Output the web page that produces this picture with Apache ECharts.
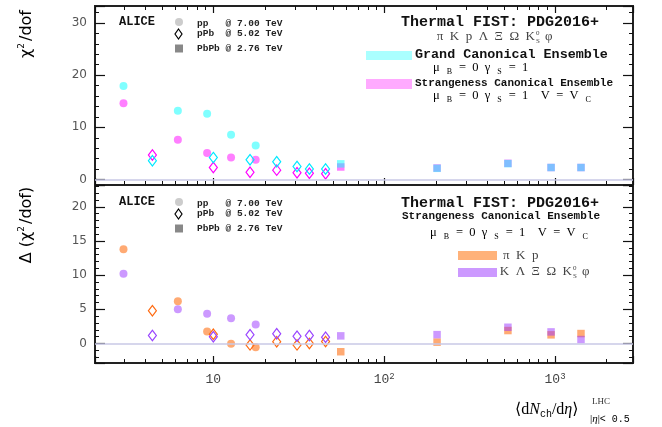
<!DOCTYPE html>
<html>
<head>
<meta charset="utf-8">
<script src="https://cdn.jsdelivr.net/npm/echarts@6/dist/echarts.min.js"></script>
<style>
html, body { margin: 0; padding: 0; background: #fff; }
#chart { width: 662px; height: 427px; }
</style>
</head>
<body>
<div id="chart"></div>
<script>
// <dNch/deta> of the multiplicity classes
var ppX = [2.98, 6.2, 9.2, 12.7, 17.7];
var pPbX = [4.4, 10.0, 16.4, 23.5, 30.9, 36.5, 45.4];
var PbPbX = [55.7, 204, 530, 948, 1419];

// top panel: chi2/dof
var ppGCE = [17.9, 13.2, 12.6, 8.6, 6.5];
var ppSCE = [14.6, 7.6, 5.1, 4.2, 3.8];
var pPbGCE = [3.6, 4.2, 3.8, 3.4, 2.5, 2.0, 2.0];
var pPbSCE = [4.7, 2.3, 1.4, 1.8, 1.3, 1.2, 1.1];
var PbPbGCE = [3.0, 2.15, 3.05, 2.3, 2.3];
var PbPbSCE = [2.4, 2.2, 3.1, 2.3, 2.3];

// bottom panel: delta chi2/dof
var ppPiKp = [13.8, 6.2, 1.75, -0.05, -0.55];
var ppStrange = [10.2, 5.0, 4.35, 3.7, 2.8];
var pPbPiKp = [4.8, 1.35, -0.2, 0.25, -0.2, 0.0, 0.3];
var pPbStrange = [1.17, 0.98, 1.3, 1.42, 1.07, 1.17, 0.92];
var PbPbPiKp = [-1.2, 0.2, 1.9, 1.27, 1.46];
var PbPbStrange = [1.12, 1.3, 2.38, 1.7, 0.58];

var minorTicksX = [3, 4, 5, 6, 7, 8, 9, 20, 30, 40, 50, 60, 70, 80, 90,
    200, 300, 400, 500, 600, 700, 800, 900, 2000];

var cyan = 'rgba(0,255,255,0.5)', magenta = 'rgba(255,0,255,0.5)';
var orange = 'rgba(255,100,0,0.55)', purple = 'rgba(153,51,255,0.5)';
var tickColor = '#111';
var mono = 'Liberation Mono';
var serif = 'Liberation Serif, DejaVu Serif';

function pairs(xs, ys) {
    return xs.map(function (x, i) { return [x, ys[i]]; });
}

function dots(xi, yi, xs, ys, symbol, color) {
    return {
        type: 'scatter', xAxisIndex: xi, yAxisIndex: yi, silent: true,
        symbol: symbol, symbolSize: symbol === 'circle' ? 8 : 7.5,
        itemStyle: { color: color, opacity: 1 },
        data: pairs(xs, ys)
    };
}

function diamonds(xi, yi, xs, ys, stroke) {
    return {
        type: 'scatter', xAxisIndex: xi, yAxisIndex: yi, silent: true,
        symbol: 'diamond', symbolSize: [8, 10.5],
        itemStyle: { color: 'rgba(0,0,0,0)', borderColor: stroke, borderWidth: 1.2, opacity: 1 },
        data: pairs(xs, ys)
    };
}

function zeroLine(xi, yi) {
    return {
        type: 'line', xAxisIndex: xi, yAxisIndex: yi, data: [], silent: true,
        markLine: {
            silent: true, symbol: 'none', label: { show: false },
            lineStyle: { color: '#c8c8e6', width: 1.5, type: 'solid' },
            data: [{ yAxis: 0 }]
        }
    };
}

// minor ticks of the log axis (2..9 x 10^n)
function minorTickSeries(xi, yi, both) {
    return {
        type: 'custom', xAxisIndex: xi, yAxisIndex: yi, silent: true, clip: false, z: 5,
        data: minorTicksX.map(function (v) { return [v, 0]; }),
        encode: { x: 0, y: 1 },
        renderItem: function (params, api) {
            var cs = params.coordSys;
            var x = Math.round(api.coord([api.value(0), 0])[0]) + 0.5;
            var b = cs.y + cs.height;
            var kids = [{ type: 'line', shape: { x1: x, y1: b, x2: x, y2: b - 4 }, style: { stroke: tickColor, lineWidth: 1 } }];
            if (both) {
                kids.push({ type: 'line', shape: { x1: x, y1: cs.y, x2: x, y2: cs.y + 4 }, style: { stroke: tickColor, lineWidth: 1 } });
            }
            return { type: 'group', children: kids };
        }
    };
}

function xAxisCfg(gi, pos, showLabel) {
    return {
        type: 'log', logBase: 10, gridIndex: gi, position: pos, min: 2.03, max: 2860, splitNumber: 3,
        axisLine: { show: true, onZero: false, lineStyle: { color: '#222', width: 2 } },
        splitLine: { show: false },
        axisTick: { show: true, inside: true, length: 7, lineStyle: { color: tickColor, width: 1.2 } },
        axisLabel: {
            show: showLabel, color: '#444', fontFamily: mono, fontSize: 13, margin: 9,
            formatter: function (v) {
                var l = Math.log10(v), e = Math.round(l);
                if (Math.abs(l - e) > 1e-3) return '';
                return e === 1 ? '{m|10}' : '{m|10}{s|' + e + '}';
            },
            rich: {
                m: { fontFamily: mono, fontSize: 13, color: '#444', lineHeight: 16 },
                s: { fontFamily: mono, fontSize: 9, color: '#444', verticalAlign: 'top', lineHeight: 16, padding: [0, 0, 6, 0] }
            }
        }
    };
}

function yAxisCfg(gi, pos, min, max, split, step, showLabel) {
    return {
        type: 'value', gridIndex: gi, position: pos, min: min, max: max, splitNumber: split,
        axisLine: { show: true, onZero: false, lineStyle: { color: '#222', width: 2 } },
        splitLine: { show: false },
        axisTick: { show: true, inside: true, length: 10, lineStyle: { color: tickColor, width: 1.2 } },
        minorTick: { show: true, splitNumber: 5, length: 4, lineStyle: { color: tickColor, width: 1 } },
        axisLabel: {
            show: showLabel, color: '#555', fontFamily: 'DejaVu Sans', fontSize: 12, margin: 8,
            formatter: function (v) {
                return Math.abs(v / step - Math.round(v / step)) < 1e-6 ? String(Math.round(v)) : '';
            }
        }
    };
}

function txt(x, y, text, font, fill, align) {
    return {
        type: 'text', x: x, y: y, silent: true, z: 20,
        style: {
            text: text, font: font, fill: fill || '#111',
            align: align || 'left', verticalAlign: 'middle',
            textAlign: align || 'left', textVerticalAlign: 'middle'
        }
    };
}

function richTxt(x, y, text, rich, align) {
    return {
        type: 'text', x: x, y: y, silent: true, z: 20,
        style: {
            text: text, rich: rich,
            align: align || 'left', verticalAlign: 'middle',
            textAlign: align || 'left', textVerticalAlign: 'middle'
        }
    };
}

function box(x, y, w, h, color) {
    return { type: 'rect', silent: true, z: 20, shape: { x: x, y: y, width: w, height: h }, style: { fill: color } };
}

var muRich = {
    m: { fontFamily: serif, fontSize: 12.5, color: '#555' },
    b: { fontFamily: serif, fontSize: 8, color: '#555', padding: [8, 7, 0, 7] }
};

function systemLegend(y0) {
    // ALICE marker legend
    return [
        txt(119, y0, 'ALICE', 'bold 12px ' + mono),
        { type: 'circle', silent: true, z: 20, shape: { cx: 179, cy: y0, r: 4 }, style: { fill: '#cccccc' } },
        { type: 'polygon', silent: true, z: 20, shape: { points: [[178.5, y0 + 7], [182, y0 + 12], [178.5, y0 + 17], [175, y0 + 12]] }, style: { fill: '#fff', stroke: '#000', lineWidth: 1.2 } },
        box(175, y0 + 22.5, 8, 8, '#888'),
        txt(197, y0 + 2, 'pp   @ 7.00 TeV', 'bold 9.5px ' + mono, '#222'),
        txt(197, y0 + 12, 'pPb  @ 5.02 TeV', 'bold 9.5px ' + mono, '#222'),
        txt(197, y0 + 26.5, 'PbPb @ 2.76 TeV', 'bold 9.5px ' + mono, '#222')
    ];
}

var graphics = [].concat(
    systemLegend(22),
    systemLegend(202),
    [
        // top right legend
        txt(500, 22, 'Thermal FIST: PDG2016+', 'bold 15px ' + mono, '#111', 'center'),
        txt(535, 37, 'π  K  p  Λ  Ξ  Ω  K', '13px ' + serif, '#444', 'right'),
        txt(536, 33, '0', '7px ' + serif, '#444'),
        txt(536, 41, 'S', '7px ' + serif, '#444'),
        txt(545, 37, 'φ', '13px ' + serif, '#444'),
        box(366, 51, 46, 9, '#aaffff'),
        txt(415, 55, 'Grand Canonical Ensemble', 'bold 13.4px ' + mono),
        richTxt(433, 68, '{m|μ}{b|B}{m|=  0  γ}{b|S}{m|=  1}', muRich),
        box(366, 79, 46, 10, '#ffaaff'),
        txt(415, 83, 'Strangeness Canonical Ensemble', 'bold 11px ' + mono),
        richTxt(433, 96, '{m|μ}{b|B}{m|=  0  γ}{b|S}{m|=  1    V  =  V}{b|C}', muRich),

        // bottom right legend
        txt(500, 203, 'Thermal FIST: PDG2016+', 'bold 15px ' + mono, '#111', 'center'),
        txt(501, 216, 'Strangeness Canonical Ensemble', 'bold 11px ' + mono, '#111', 'center'),
        richTxt(430, 233, '{m|μ}{b|B}{m|=  0  γ}{b|S}{m|=  1    V  =  V}{b|C}', muRich),
        box(458, 251, 39, 9, '#ffb27a'),
        txt(503, 256, 'π  K  p', '13px ' + serif, '#444'),
        box(458, 268, 39, 9, '#cc99ff'),
        txt(572, 272, 'K  Λ  Ξ  Ω  K', '13px ' + serif, '#444', 'right'),
        txt(573, 268, '0', '7px ' + serif, '#444'),
        txt(573, 276, 'S', '7px ' + serif, '#444'),
        txt(582, 272, 'φ', '13px ' + serif, '#444'),

        // axis titles
        {
            type: 'text', x: 27, y: 34, rotation: Math.PI / 2, silent: true, z: 20,
            style: {
                text: '{a|χ}{s|2}{a|/dof}', align: 'center', verticalAlign: 'middle',
                textAlign: 'center', textVerticalAlign: 'middle',
                rich: {
                    a: { fontFamily: 'DejaVu Sans', fontSize: 16, color: '#444' },
                    s: { fontFamily: 'DejaVu Sans', fontSize: 9, color: '#444', padding: [0, 2, 10, 0] }
                }
            }
        },
        {
            type: 'text', x: 27, y: 225, rotation: Math.PI / 2, silent: true, z: 20,
            style: {
                text: '{a|Δ (χ}{s|2}{a|/dof)}', align: 'center', verticalAlign: 'middle',
                textAlign: 'center', textVerticalAlign: 'middle',
                rich: {
                    a: { fontFamily: 'DejaVu Sans', fontSize: 16, color: '#444' },
                    s: { fontFamily: 'DejaVu Sans', fontSize: 9, color: '#444', padding: [0, 2, 10, 0] }
                }
            }
        },
        richTxt(515, 410, '{t|⟨d}{i|N}{b|ch}{t|/d}{i|η}{t|⟩}', {
            t: { fontFamily: serif, fontSize: 16, color: '#333' },
            i: { fontFamily: serif, fontSize: 16, fontStyle: 'italic', color: '#333' },
            b: { fontFamily: mono, fontSize: 10, color: '#333', padding: [9, 0, 0, 0] }
        }),
        txt(592, 402, 'LHC', '9px ' + serif, '#333'),
        richTxt(590, 419, '{t||}{i|η}{t||}{m|< 0.5}', {
            t: { fontFamily: serif, fontSize: 11, color: '#333' },
            i: { fontFamily: serif, fontSize: 11, fontStyle: 'italic', color: '#333' },
            m: { fontFamily: mono, fontSize: 10, color: '#333' }
        })
    ]
);

var chart = echarts.init(document.getElementById('chart'));
chart.setOption({
    animation: false,
    backgroundColor: '#fff',
    grid: [
        { left: 95, top: 6, width: 538, height: 179, show: true, borderColor: '#222', borderWidth: 2, backgroundColor: 'transparent' },
        { left: 95, top: 185, width: 538, height: 178, show: true, borderColor: '#222', borderWidth: 2, backgroundColor: 'transparent' }
    ],
    xAxis: [
        xAxisCfg(0, 'bottom', false),
        xAxisCfg(0, 'top', false),
        xAxisCfg(1, 'bottom', true)
    ],
    yAxis: [
        yAxisCfg(0, 'left', -1.05, 33.25, 4, 10, true),
        yAxisCfg(0, 'right', -1.05, 33.25, 4, 10, false),
        yAxisCfg(1, 'left', -2.85, 23.2, 5, 5, true),
        yAxisCfg(1, 'right', -2.85, 23.2, 5, 5, false)
    ],
    graphic: graphics,
    series: [
        zeroLine(0, 0),
        minorTickSeries(0, 0, true),
        dots(0, 0, ppX, ppSCE, 'circle', magenta),
        diamonds(0, 0, pPbX, pPbSCE, '#ff00ff'),
        dots(0, 0, PbPbX, PbPbSCE, 'rect', magenta),
        dots(0, 0, ppX, ppGCE, 'circle', cyan),
        diamonds(0, 0, pPbX, pPbGCE, '#00e8ff'),
        dots(0, 0, PbPbX, PbPbGCE, 'rect', cyan),

        zeroLine(2, 2),
        minorTickSeries(2, 2, false),
        dots(2, 2, ppX, ppPiKp, 'circle', orange),
        diamonds(2, 2, pPbX, pPbPiKp, '#ff6a10'),
        dots(2, 2, PbPbX, PbPbPiKp, 'rect', orange),
        dots(2, 2, ppX, ppStrange, 'circle', purple),
        diamonds(2, 2, pPbX, pPbStrange, '#9944ff'),
        dots(2, 2, PbPbX, PbPbStrange, 'rect', purple)
    ]
});
</script>
</body>
</html>
